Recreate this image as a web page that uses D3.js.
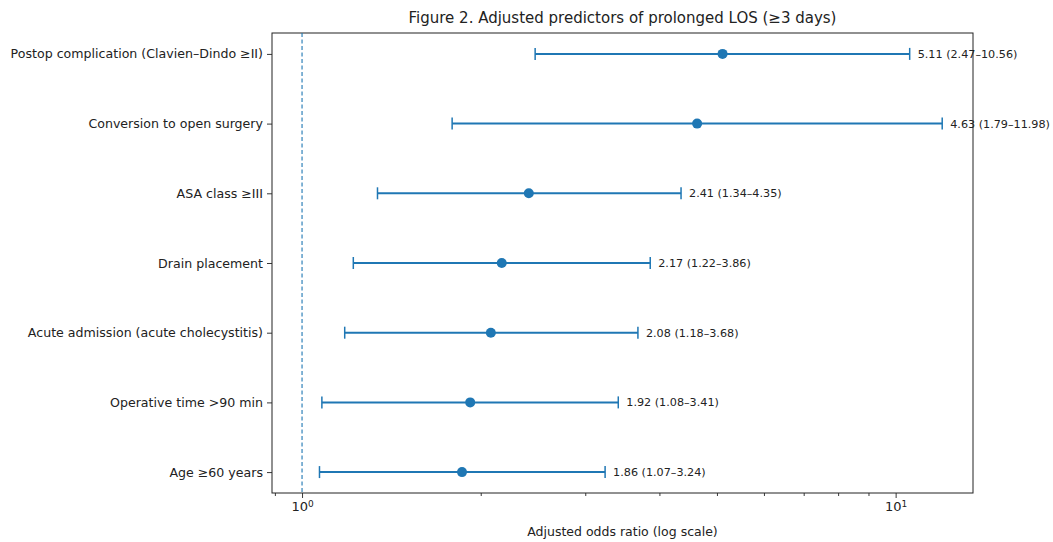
<!DOCTYPE html>
<html>
<head>
<meta charset="utf-8">
<script src="https://cdn.jsdelivr.net/npm/d3@7"></script>
<style>
  body { margin: 0; background: #fff; }
  text { font-family: "DejaVu Sans", sans-serif; fill: #222; }
</style>
</head>
<body>
<div id="chart"></div>
<script>
// predictors, top to bottom
var predictors = [
  "Postop complication (Clavien\u2013Dindo \u2265II)",
  "Conversion to open surgery",
  "ASA class \u2265III",
  "Drain placement",
  "Acute admission (acute cholecystitis)",
  "Operative time >90 min",
  "Age \u226560 years"
];
var odds_ratio = [5.11, 4.63, 2.41, 2.17, 2.08, 1.92, 1.86];
var ci_low = [2.47, 1.79, 1.34, 1.22, 1.18, 1.08, 1.07];
var ci_high = [10.56, 11.98, 4.35, 3.86, 3.68, 3.41, 3.24];
var x_limits = [0.89, 13.5];
var major_ticks = [1, 10];
var minor_ticks = [0.9, 2, 3, 4, 5, 6, 7, 8, 9];

var blue = "#1f77b4";

var visualize = function() {
  var data = [];
  for (var i = 0; i < predictors.length; i++) {
    data.push({ name: predictors[i], or: odds_ratio[i], lo: ci_low[i], hi: ci_high[i],
                pos: predictors.length - 1 - i });
  }

  var margin = { top: 33, right: 80, bottom: 49, left: 272 };
  var W = 1053, H = 542;
  var width = W - margin.left - margin.right,
     height = H - margin.top - margin.bottom;

  var svg = d3.select("#chart")
    .append("svg")
    .attr("width", W)
    .attr("height", H)
    .append("g")
    .attr("transform", "translate(" + margin.left + "," + margin.top + ")");

  // == scales ==
  var x = d3.scaleLog().domain(x_limits).range([0, width]);
  var y = d3.scaleLinear().domain([-0.3, predictors.length - 1 + 0.3]).range([height, 0]);

  // == axes ==
  var sup = { "1": "0", "10": "1" };
  var x_axis = d3.axisBottom(x)
    .tickValues(major_ticks)
    .tickSize(5)
    .tickPadding(4)
    .tickFormat(function (d) { return ""; });
  var gx = svg.append("g").attr("transform", "translate(0," + height + ")").call(x_axis);
  gx.select(".domain").remove();
  gx.selectAll(".tick text").each(function (d) {
    var t = d3.select(this);
    t.append("tspan").text("10");
    t.append("tspan").attr("dy", "-0.5em").style("font-size", "9px").text(sup[String(d)]);
  }).style("font-size", "13px");

  var x_minor = d3.axisBottom(x)
    .tickValues(minor_ticks)
    .tickSize(3)
    .tickFormat("");
  var gxm = svg.append("g").attr("transform", "translate(0," + height + ")").call(x_minor);
  gxm.select(".domain").remove();

  var y_axis = d3.axisLeft(y)
    .tickValues(data.map(function (d) { return d.pos; }))
    .tickSize(5)
    .tickPadding(4)
    .tickFormat(function (d) { return predictors[predictors.length - 1 - d]; });
  var gy = svg.append("g").call(y_axis);
  gy.select(".domain").remove();
  gy.selectAll(".tick text").style("font-size", "12.6px");

  svg.selectAll(".tick line").attr("stroke", "#222").attr("stroke-width", 0.9);

  // frame
  svg.append("rect")
    .attr("width", width).attr("height", height)
    .attr("fill", "none").attr("stroke", "#222").attr("stroke-width", 1);

  // reference line at OR = 1
  svg.append("line")
    .attr("x1", x(1)).attr("x2", x(1))
    .attr("y1", 0).attr("y2", height)
    .attr("stroke", blue).attr("stroke-width", 1.1)
    .attr("stroke-dasharray", "4,2.5");

  // == forest rows ==
  var row = svg.selectAll("g.row")
    .data(data)
    .enter()
    .append("g")
    .attr("class", "row")
    .attr("transform", function (d) { return "translate(0," + y(d.pos) + ")"; });

  row.append("line")
    .attr("x1", function (d) { return x(d.lo); })
    .attr("x2", function (d) { return x(d.hi); })
    .attr("stroke", blue).attr("stroke-width", 2);

  row.append("line")
    .attr("x1", function (d) { return x(d.lo); })
    .attr("x2", function (d) { return x(d.lo); })
    .attr("y1", -6).attr("y2", 6)
    .attr("stroke", blue).attr("stroke-width", 1.5);

  row.append("line")
    .attr("x1", function (d) { return x(d.hi); })
    .attr("x2", function (d) { return x(d.hi); })
    .attr("y1", -6).attr("y2", 6)
    .attr("stroke", blue).attr("stroke-width", 1.5);

  row.append("circle")
    .attr("cx", function (d) { return x(d.or); })
    .attr("r", 5)
    .attr("fill", blue);

  row.append("text")
    .attr("x", function (d) { return x(d.hi) + 8; })
    .attr("dy", "0.35em")
    .style("font-size", "11.2px")
    .text(function (d) { return d.or.toFixed(2) + " (" + d.lo.toFixed(2) + "\u2013" + d.hi.toFixed(2) + ")"; });

  // title + label
  svg.append("text")
    .attr("x", width / 2).attr("y", -10)
    .attr("text-anchor", "middle")
    .style("font-size", "15px")
    .text("Figure 2. Adjusted predictors of prolonged LOS (\u22653 days)");

  svg.append("text")
    .attr("x", width / 2).attr("y", height + 43)
    .attr("text-anchor", "middle")
    .style("font-size", "12.5px")
    .text("Adjusted odds ratio (log scale)");
};

visualize();
</script>
</body>
</html>
